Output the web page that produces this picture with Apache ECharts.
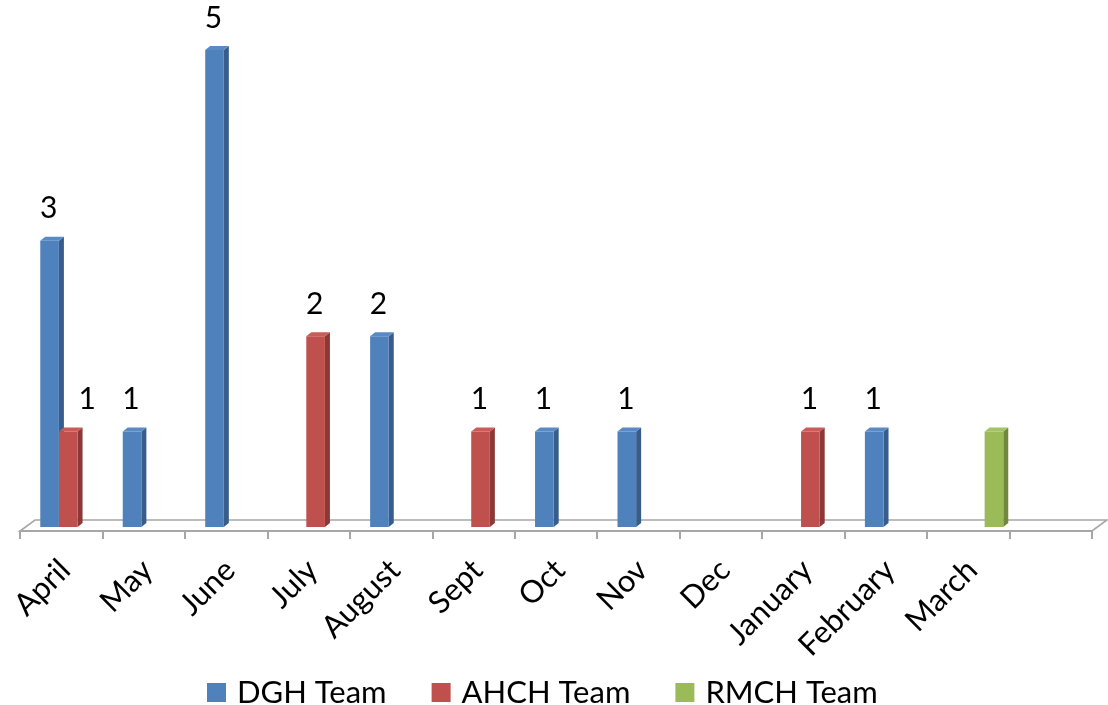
<!DOCTYPE html>
<html><head><meta charset="utf-8">
<script src="https://cdn.jsdelivr.net/npm/echarts@6/dist/echarts.min.js"></script>
<style>html,body{margin:0;padding:0;background:#fff}#c{width:1108px;height:705px}</style>
</head><body><div id="c"></div>
<script>
// ---- data ----
const categories = ['April','May','June','July','August','Sept','Oct','Nov','Dec','January','February','March',''];
const seriesNames = ['DGH Team','AHCH Team','RMCH Team'];
const dghValues  = [3, 1, 5, null, 2, null, 1, 1, null, null, 1, null, null];
const ahchValues = [1, null, null, 2, null, 1, null, null, null, 1, null, null, null];
const rmchValues = [null, null, null, null, null, null, null, null, null, null, null, 1, null];

// ---- styles ----
const FONT = 'Lato, "Open Sans", sans-serif';
const DEPTH = [5, -4];      // 3D side depth of each bar
const SHIFT = [7, -4];      // bars stand in the middle of the floor depth
const FLOOR = [15, -11];    // floor depth
const BAR_RATIO = 0.226;
const faces = [
  {front:'#4F81BD', side:'#385D8A', top:'#5A8AC4'},
  {front:'#C0504D', side:'#8C3836', top:'#C95B58'},
  {front:'#9BBB59', side:'#71893F', top:'#A5C364'}
];
const labelShow = [true, true, false];
const labelShift = [{}, {0: 20}, {}];

function toData(vals){ return vals.map((v,i)=> v==null ? null : [i, v]).filter(d=>d); }

function barRenderer(slot){
  return function(params, api){
    const ci = api.value(0), v = api.value(1);
    const top = api.coord([ci, v]);
    const base = api.coord([ci, 0]);
    const band = api.size([1, 0])[0];
    const w = band * BAR_RATIO;
    const x = top[0] + SHIFT[0] - 1.5 * w + slot * w;
    const y1 = top[1] + SHIFT[1], y0 = base[1] + SHIFT[1];
    const dx = DEPTH[0], dy = DEPTH[1];
    const f = faces[slot];
    const children = [
      {type:'polygon', shape:{points:[[x+w,y1],[x+w+dx,y1+dy],[x+w+dx,y0+dy],[x+w,y0]]}, style:{fill:f.side}},
      {type:'polygon', shape:{points:[[x,y1],[x+dx,y1+dy],[x+w+dx,y1+dy],[x+w,y1]]}, style:{fill:f.top}},
      {type:'rect', shape:{x:x, y:y1, width:w, height:y0-y1}, style:{fill:f.front}}
    ];
    if (labelShow[slot]) {
      children.push({type:'text', style:{
        text:String(v), x:x + w/2 - 1 + (labelShift[slot][ci] || 0), y:y1 - 17,
        fill:'#000', fontSize:30, fontFamily:FONT, align:'center', verticalAlign:'bottom'
      }});
    }
    return {type:'group', children};
  };
}

function floorRenderer(params, api){
  const cs = params.coordSys;
  const x0 = cs.x, x1 = cs.x + cs.width, y = cs.y + cs.height;
  return {type:'polygon', shape:{points:[[x0,y],[x1,y],[x1+FLOOR[0],y+FLOOR[1]],[x0+FLOOR[0],y+FLOOR[1]]]},
    style:{fill:'#fff', stroke:'#A6A6A6', lineWidth:1.6}};
}

const valueSets = [dghValues, ahchValues, rmchValues];
const series = [{
  type:'custom', name:'floor', renderItem:floorRenderer, data:[[0,0]], encode:{x:0,y:1}, z:1, silent:true
}];
valueSets.forEach((vals, s) => {
  series.push({
    type:'custom', name:seriesNames[s], renderItem:barRenderer(s), data:toData(vals),
    encode:{x:0, y:1}, itemStyle:{color:faces[s].front}, z:3
  });
});

const chart = echarts.init(document.getElementById('c'));
chart.setOption({
  animation:false,
  backgroundColor:'#fff',
  grid:{left:20, right:16, top:54, bottom:174},
  xAxis:{
    type:'category', data:categories, boundaryGap:true,
    axisLine:{show:true, lineStyle:{color:'#A6A6A6', width:2}},
    axisTick:{show:true, interval:0, length:8, lineStyle:{color:'#A6A6A6', width:2}},
    axisLabel:{interval:0, rotate:45, margin:16, align:'right', verticalAlign:'top',
      padding:[0,10,0,0], fontSize:31, lineHeight:31, fontFamily:FONT, color:'#000'},
    z:4
  },
  yAxis:{type:'value', min:0, max:5, show:false, splitLine:{show:false}},
  legend:{
    data:seriesNames, left:202, top:672, icon:'rect', itemWidth:19, itemHeight:19, itemGap:45,
    textStyle:{fontSize:31, fontFamily:FONT, color:'#000', padding:[0,0,0,6]}
  },
  series:series
});
</script></body></html>
